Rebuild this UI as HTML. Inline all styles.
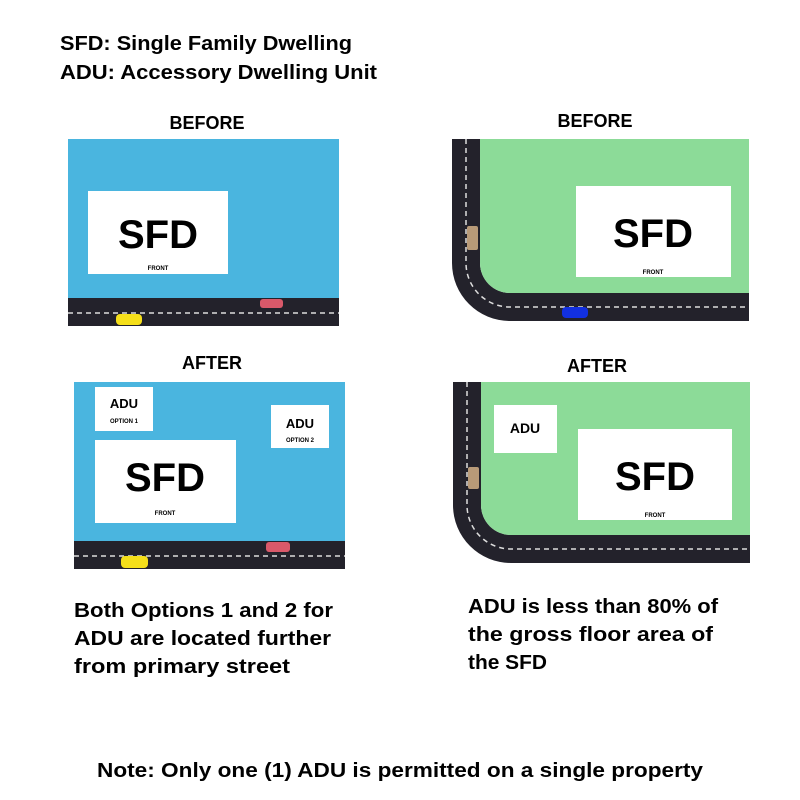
<!DOCTYPE html>
<html><head><meta charset="utf-8"><style>
html,body{margin:0;padding:0;background:#fff}
svg{display:block}
text{font-family:"Liberation Sans",sans-serif;font-weight:bold;fill:#000}
</style></head><body>
<svg width="800" height="800" viewBox="0 0 800 800" xmlns="http://www.w3.org/2000/svg">
<text x="60" y="50" font-size="20" textLength="292" lengthAdjust="spacingAndGlyphs">SFD: Single Family Dwelling</text>
<text x="60" y="79" font-size="20" textLength="317" lengthAdjust="spacingAndGlyphs">ADU: Accessory Dwelling Unit</text>

<!-- Left top -->
<text x="207" y="129" font-size="18" text-anchor="middle">BEFORE</text>
<rect x="68" y="139" width="271" height="159" fill="#4ab5df"/>
<rect x="68" y="298" width="271" height="28" fill="#23222b"/>
<line x1="68" y1="313" x2="339" y2="313" stroke="#ddd" stroke-width="1.5" stroke-dasharray="5,4"/>
<rect x="88" y="191" width="140" height="83" fill="#fff"/>
<text x="158" y="248" font-size="40" text-anchor="middle">SFD</text>
<text x="158" y="270" font-size="6" text-anchor="middle">FRONT</text>
<rect x="260" y="299" width="23" height="9" rx="3" fill="#d9596a"/>
<rect x="116" y="314" width="26" height="11" rx="4" fill="#f5df1a"/>

<!-- Left bottom -->
<text x="212" y="369" font-size="18" text-anchor="middle">AFTER</text>
<rect x="74" y="382" width="271" height="159" fill="#4ab5df"/>
<rect x="74" y="541" width="271" height="28" fill="#23222b"/>
<line x1="74" y1="556" x2="345" y2="556" stroke="#ddd" stroke-width="1.5" stroke-dasharray="5,4"/>
<rect x="95" y="387" width="58" height="44" fill="#fff"/>
<text x="124" y="408" font-size="13" text-anchor="middle">ADU</text>
<text x="124" y="423" font-size="6" text-anchor="middle">OPTION 1</text>
<rect x="271" y="405" width="58" height="43" fill="#fff"/>
<text x="300" y="428" font-size="13" text-anchor="middle">ADU</text>
<text x="300" y="442" font-size="6" text-anchor="middle">OPTION 2</text>
<rect x="95" y="440" width="141" height="83" fill="#fff"/>
<text x="165" y="491" font-size="40" text-anchor="middle">SFD</text>
<text x="165" y="515" font-size="6" text-anchor="middle">FRONT</text>
<rect x="266" y="542" width="24" height="10" rx="3" fill="#d9596a"/>
<rect x="121" y="556" width="27" height="12" rx="4" fill="#f5df1a"/>

<!-- Right top -->
<text x="595" y="127" font-size="18" text-anchor="middle">BEFORE</text>
<path d="M452 139 H480 V263 A30 30 0 0 0 510 293 H749 V321 H510 A58 58 0 0 1 452 263 Z" fill="#23222b"/>
<path d="M480 139 H749 V293 H510 A30 30 0 0 1 480 263 Z" fill="#8cdb98"/>
<path d="M466 139 V263 A44 44 0 0 0 510 307 H749" fill="none" stroke="#ddd" stroke-width="1.5" stroke-dasharray="5,4"/>
<rect x="576" y="186" width="155" height="91" fill="#fff"/>
<text x="653" y="247" font-size="40" text-anchor="middle">SFD</text>
<text x="653" y="274" font-size="6" text-anchor="middle">FRONT</text>
<rect x="467" y="226" width="11" height="24" rx="2" fill="#b89a78"/>
<rect x="562" y="307" width="26" height="11" rx="4" fill="#1230e0"/>

<!-- Right bottom -->
<text x="597" y="372" font-size="18" text-anchor="middle">AFTER</text>
<path d="M453 382 H481 V505 A30 30 0 0 0 511 535 H750 V563 H511 A58 58 0 0 1 453 505 Z" fill="#23222b"/>
<path d="M481 382 H750 V535 H511 A30 30 0 0 1 481 505 Z" fill="#8cdb98"/>
<path d="M467 382 V505 A44 44 0 0 0 511 549 H750" fill="none" stroke="#ddd" stroke-width="1.5" stroke-dasharray="5,4"/>
<rect x="494" y="405" width="63" height="48" fill="#fff"/>
<text x="525" y="433" font-size="14" text-anchor="middle">ADU</text>
<rect x="578" y="429" width="154" height="91" fill="#fff"/>
<text x="655" y="490" font-size="40" text-anchor="middle">SFD</text>
<text x="655" y="517" font-size="6" text-anchor="middle">FRONT</text>
<rect x="468" y="467" width="11" height="22" rx="2" fill="#b89a78"/>

<text x="74" y="617" font-size="20" textLength="259" lengthAdjust="spacingAndGlyphs">Both Options 1 and 2 for</text>
<text x="74" y="645" font-size="20" textLength="257" lengthAdjust="spacingAndGlyphs">ADU are located further</text>
<text x="74" y="673" font-size="20" textLength="216" lengthAdjust="spacingAndGlyphs">from primary street</text>
<text x="468" y="613" font-size="20" textLength="250" lengthAdjust="spacingAndGlyphs">ADU is less than 80% of</text>
<text x="468" y="641" font-size="20" textLength="245" lengthAdjust="spacingAndGlyphs">the gross floor area of</text>
<text x="468" y="669" font-size="20" textLength="79" lengthAdjust="spacingAndGlyphs">the SFD</text>
<text x="97" y="777" font-size="20" textLength="606" lengthAdjust="spacingAndGlyphs">Note: Only one (1) ADU is permitted on a single property</text>
</svg>
</body></html>
